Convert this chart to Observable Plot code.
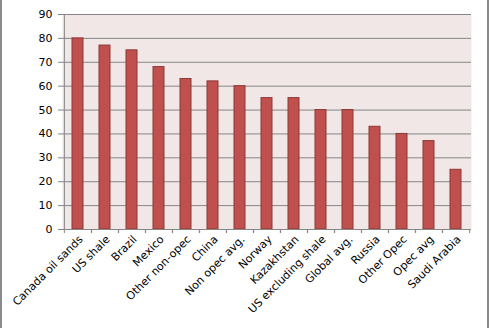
<!DOCTYPE html>
<html><head><meta charset="utf-8">
<script src="https://cdn.jsdelivr.net/npm/d3@7"></script>
<script src="https://cdn.jsdelivr.net/npm/@observablehq/plot@0.6"></script>
<style>
html,body{margin:0;padding:0;background:#fff;}
#wrap{position:relative;width:490px;height:328px;overflow:hidden;}
#frame{position:absolute;left:0;top:0;width:485px;height:328px;border-left:2px solid #8a8a8a;border-right:2px solid #8a8a8a;box-sizing:content-box;pointer-events:none;}
#chart{position:absolute;left:0;top:0;}
</style></head>
<body><div id="wrap"><div id="chart"></div><div id="frame"></div></div>
<script>
const categories = ["Canada oil sands","US shale","Brazil","Mexico","Other non-opec","China","Non opec avg.","Norway","Kazakhstan","US excluding shale","Global avg.","Russia","Other Opec","Opec avg","Saudi Arabia"];
const values = [80,77,75,68,63,62,60,55,55,50,50,43,40,37,25];
const yTicks = [0,10,20,30,40,50,60,70,80,90];

const data = categories.map((c,i)=>({category:c, value:values[i]}));
const W=490, H=328, mL=62, mR=19, mT=14, mB=99;
const bw = (W-mL-mR)/categories.length;
const font = "DejaVu Sans, Verdana, sans-serif";

const chart = Plot.plot({
  width: W, height: H,
  marginLeft: mL, marginRight: mR, marginTop: mT, marginBottom: mB,
  style: {fontFamily: font, fontSize: "10px", color: "#000", background: "transparent"},
  x: {domain: categories, padding: 0, label: null},
  y: {domain: [0,90], label: null},
  marks: [
    Plot.frame({fill: "#f2e7e7", stroke: null}),
    Plot.gridY(yTicks, {stroke: "#868686", strokeOpacity: 1, strokeWidth: 1}),
    Plot.barY(data, {x: "category", y: "value", fill: "#c0504d", stroke: "#8c3836", strokeWidth: 1, insetLeft: 8, insetRight: 8}),
    Plot.ruleX([0], {x: () => categories[0], dx: -bw/2, stroke: "#868686"}),
    Plot.ruleY([0], {stroke: "#868686"}),
    Plot.axisY(yTicks, {tickSize: 4, tickPadding: 6, stroke: "#868686", fill: "#000", fontSize: 11}),
    Plot.axisX({tickSize: 4, text: null, dx: -bw/2, stroke: "#868686"}),
    Plot.axisX({tickSize: 4, text: null, dx: bw/2, stroke: "#868686"}),
    Plot.axisX({tickSize: 0, tickPadding: 8, tickRotate: -45, dx: 3, fill: "#000", fontSize: 11, textAnchor: "end"})
  ]
});
document.getElementById("chart").appendChild(chart);
</script></body></html>
